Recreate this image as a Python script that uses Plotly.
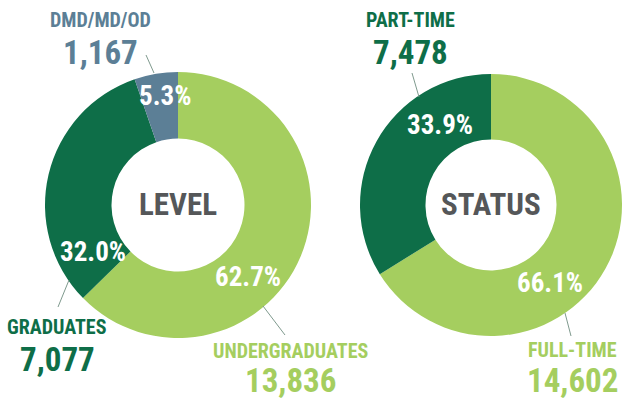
import plotly.graph_objects as go

# ---- data ----
level_labels = ["UNDERGRADUATES", "GRADUATES", "DMD/MD/OD"]
level_values = [13836, 7077, 1167]
level_pct = ["62.7%", "32.0%", "5.3%"]

status_labels = ["FULL-TIME", "PART-TIME"]
status_values = [14602, 7478]
status_pct = ["66.1%", "33.9%"]

LIGHT = "#A5CE5F"
DARK = "#0E6E48"
SLATE = "#5C7F96"
GREY = "#555759"
FONT = "Roboto Condensed, Open Sans Condensed, sans-serif"

level_colors = [LIGHT, DARK, SLATE]
status_colors = [LIGHT, DARK]

W, H = 624, 400

def px(x):
    return x / W

def py(y):
    return 1 - y / H

fig = go.Figure()
fig.add_trace(go.Pie(
    labels=level_labels, values=level_values, sort=False, direction="clockwise",
    rotation=0, hole=0.5, textinfo="none", hoverinfo="skip",
    marker=dict(colors=level_colors, line=dict(width=0)),
    domain=dict(x=[px(45), px(311)], y=[py(338), py(72)]), showlegend=False,
))
fig.add_trace(go.Pie(
    labels=status_labels, values=status_values, sort=False, direction="clockwise",
    rotation=0, hole=0.5, textinfo="none", hoverinfo="skip",
    marker=dict(colors=status_colors, line=dict(width=0)),
    domain=dict(x=[px(360), px(622)], y=[py(336), py(74)]), showlegend=False,
))

annotations = []

def txt(x, y, s, size, color):
    annotations.append(dict(
        x=px(x), y=py(y), xref="paper", yref="paper", text="<b>" + s + "</b>",
        showarrow=False, xanchor="center", yanchor="middle", borderpad=0, borderwidth=0,
        font=dict(family=FONT, size=size, color=color),
    ))

# center titles
txt(178, 205, "LEVEL", 31, GREY)
txt(491, 205, "STATUS", 31, GREY)

# percentage labels
txt(248, 277, level_pct[0], 27, "white")
txt(93, 252, level_pct[1], 27, "white")
txt(165, 96, level_pct[2], 27, "white")
txt(550, 283, status_pct[0], 27, "white")
txt(440, 125, status_pct[1], 27, "white")

# category names and counts
cat_pos = [
    (level_labels[0], level_values[0], 290, 351, 380.5, LIGHT),
    (level_labels[1], level_values[1], 57, 327, 359, DARK),
    (level_labels[2], level_values[2], 100, 20, 52, SLATE),
    (status_labels[0], status_values[0], 572, 350, 380.5, LIGHT),
    (status_labels[1], status_values[1], 410, 20, 52, DARK),
]
for name, val, x, yn, yv, col in cat_pos:
    txt(x, yn, name, 20, col)
    txt(x, yv, f"{val:,}", 33, col)

# leader lines
leaders = [
    (146, 55, 154, 73),
    (69, 280, 58, 307),
    (263, 306, 285, 335),
    (412, 73, 419, 97),
    (565, 313, 571, 336),
]
shapes = [dict(type="line", xref="paper", yref="paper",
               x0=px(a), y0=py(b), x1=px(c), y1=py(d),
               line=dict(color="#7F9A8E", width=1)) for a, b, c, d in leaders]

fig.update_layout(
    width=W, height=H, margin=dict(l=0, r=0, t=0, b=0),
    paper_bgcolor="white", plot_bgcolor="white",
    annotations=annotations, shapes=shapes,
)

fig.write_html("out.html", config={"displayModeBar": False},
               post_script="document.body.style.margin='0';")
